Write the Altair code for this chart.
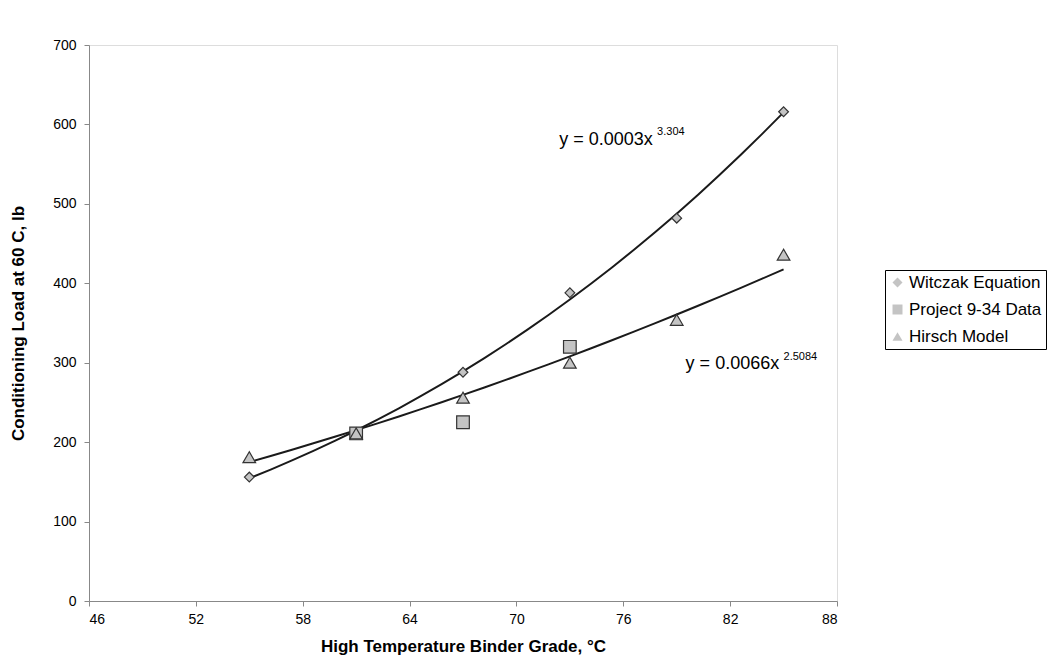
import altair as alt
import pandas as pd

# ---- data ----
series_names = ["Witczak Equation", "Project 9-34 Data", "Hirsch Model"]

witczak_x = [55, 61, 67, 73, 79, 85]
witczak_y = [156, 211, 288, 388, 482, 616]

project_x = [61, 67, 73]
project_y = [211, 225, 320]

hirsch_x = [55, 61, 67, 73, 79, 85]
hirsch_y = [181, 211, 256, 300, 354, 436]

x_ticks = [46, 52, 58, 64, 70, 76, 82, 88]
y_ticks = [0, 100, 200, 300, 400, 500, 600, 700]

eq_text = ["y = 0.0003x", "3.304", "y = 0.0066x", "2.5084"]
eq_x = [72.4, 77.9, 79.5, 85.0]
eq_y = [580, 590, 299, 307]
eq_size = [18, 11, 18, 11]

rows = []
for n, xs, ys in [(series_names[0], witczak_x, witczak_y),
                  (series_names[1], project_x, project_y),
                  (series_names[2], hirsch_x, hirsch_y)]:
    for a, b in zip(xs, ys):
        rows.append({"series": n, "x": a, "y": b})
df = pd.DataFrame(rows)

ann = pd.DataFrame({"t": eq_text, "x": eq_x, "y": eq_y, "s": eq_size})

FONT = "Liberation Sans"

xscale = alt.Scale(domain=[46, 88], nice=False, zero=False)
yscale = alt.Scale(domain=[0, 700], nice=False)

base = alt.Chart(df)

trend = base.transform_filter(
    alt.FieldOneOfPredicate(field="series", oneOf=[series_names[0], series_names[2]])
).transform_regression("x", "y", method="pow", groupby=["series"]).mark_line(
    color="#1a1a1a", strokeWidth=2
).encode(
    x=alt.X("x:Q", scale=xscale),
    y=alt.Y("y:Q", scale=yscale),
    detail="series:N",
)

points = base.mark_point(filled=False, fill="#c4c4c4", fillOpacity=1, stroke="#333333",
                         strokeWidth=1.2, opacity=1).encode(
    x=alt.X("x:Q", scale=xscale,
            axis=alt.Axis(values=x_ticks, title="High Temperature Binder Grade, °C",
                          titleFontSize=17, titleFontWeight="bold", titlePadding=12,
                          labelFontSize=14, labelPadding=6, tickSize=5, grid=False)),
    y=alt.Y("y:Q", scale=yscale,
            axis=alt.Axis(values=y_ticks, title="Conditioning Load at 60 C, lb",
                          titleFontSize=17, titleFontWeight="bold", titlePadding=25,
                          labelFontSize=14, labelPadding=8, tickSize=5, grid=False)),
    shape=alt.Shape("series:N",
                    scale=alt.Scale(domain=series_names, range=["diamond", "square", "triangle-up"]),
                    legend=alt.Legend(title=None, orient="none", legendX=796, legendY=225,
                                      strokeColor="black", fillColor="white", padding=4,
                                      labelFontSize=17, labelFont=FONT, symbolSize=100,
                                      symbolFillColor="#d0d0d0", symbolStrokeColor="#111111",
                                      symbolStrokeWidth=1.5, rowPadding=9, symbolOffset=0,
                                      labelOffset=3, labelLimit=140)),
    size=alt.condition(alt.datum.series == series_names[0], alt.value(95), alt.value(160)),
)

text = alt.Chart(ann).mark_text(align="left", baseline="middle", font=FONT, color="black").encode(
    x=alt.X("x:Q", scale=xscale),
    y=alt.Y("y:Q", scale=yscale),
    text="t:N",
    size=alt.Size("s:Q", scale=None),
)

chart = alt.layer(trend, points, text).properties(
    width=748, height=556,
    padding={"left": 9, "top": 38, "right": 0, "bottom": 5},
).configure_view(stroke="black", strokeWidth=1).configure_axis(
    domainColor="black", tickColor="black", labelColor="black", titleColor="black",
    labelFont=FONT, titleFont=FONT,
).configure(background="white")

chart.save("out.html", embed_options={"renderer": "svg", "actions": False})
